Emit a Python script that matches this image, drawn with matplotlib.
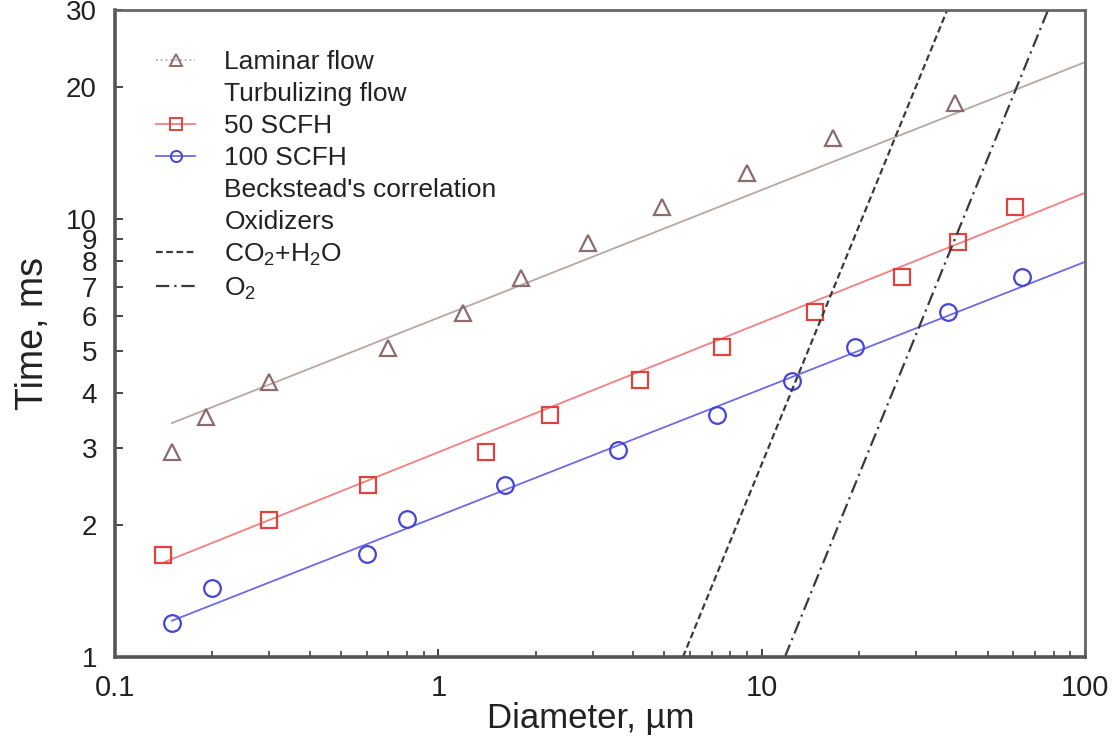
import numpy as np
import matplotlib
matplotlib.use("Agg")
import matplotlib.pyplot as plt
from matplotlib.lines import Line2D

plt.rcParams['font.family'] = ['Liberation Sans', 'DejaVu Sans']
plt.rcParams['mathtext.fontset'] = 'custom'
plt.rcParams['mathtext.rm'] = 'Liberation Sans'
plt.rcParams['mathtext.it'] = 'Liberation Sans'

# laminar flow measurements
d_lam = [0.150, 0.191, 0.300, 0.699, 1.19, 1.80, 2.90, 4.92, 9.01, 16.6, 39.7]
t_lam = [2.94, 3.53, 4.24, 5.08, 6.10, 7.33, 8.81, 10.65, 12.74, 15.3, 18.4]

# turbulizing flow, 50 SCFH
d_50 = [0.141, 0.300, 0.606, 1.405, 2.22, 4.21, 7.54, 14.6, 27.2, 40.5, 60.8]
t_50 = [1.71, 2.05, 2.47, 2.94, 3.57, 4.29, 5.10, 6.13, 7.37, 8.86, 10.65]

# turbulizing flow, 100 SCFH
d_100 = [0.150, 0.1995, 0.602, 0.80, 1.61, 3.60, 7.28, 12.4, 19.45, 37.7, 63.9]
t_100 = [1.196, 1.437, 1.72, 2.07, 2.47, 2.97, 3.57, 4.27, 5.10, 6.13, 7.37]

# power-law fits (end points)
fit_lam_d, fit_lam_t = [0.15, 100], [3.42, 22.8]
fit_50_d, fit_50_t = [0.143, 100], [1.65, 11.47]
fit_100_d, fit_100_t = [0.15, 100], [1.21, 7.98]

# Beckstead's correlation for the two oxidizers
beck_co2_d, beck_co2_t = [5.71, 37.5], [1, 30]
beck_o2_d, beck_o2_t = [11.8, 76.9], [1, 30]

y_ticks = [1, 2, 3, 4, 5, 6, 7, 8, 9, 10, 20, 30]
x_ticks = [0.1, 1, 10, 100]
x_ticklabels = ['0.1', '1', '10', '100']

c_lam, c_lam_line = '#8c6c6e', '#b9a6a6'
c_50, c_50_line = '#e0433d', '#f28080'
c_100, c_100_line = '#4545d6', '#6b6be8'
c_beck = '#3a3a3a'

fig = plt.figure(figsize=(11.2, 7.51), dpi=100)
ax = fig.add_axes([0.1027, 0.1252, 0.866, 0.8615])
ax.set_xscale('log')
ax.set_yscale('log')

ax.plot(fit_lam_d, fit_lam_t, color=c_lam_line, lw=1.3)
ax.plot(fit_50_d, fit_50_t, color=c_50_line, lw=1.3)
ax.plot(fit_100_d, fit_100_t, color=c_100_line, lw=1.3)

ms = 12
ax.plot(d_lam, t_lam, ls='none', marker='^', ms=ms, mfc='none', mec=c_lam, mew=1.6)
ax.plot(d_50, t_50, ls='none', marker='s', ms=ms, mfc='none', mec=c_50, mew=1.6)
ax.plot(d_100, t_100, ls='none', marker='o', ms=ms, mfc='none', mec=c_100, mew=1.6)

ax.plot(beck_co2_d, beck_co2_t, color=c_beck, lw=1.6, ls=(0, (3, 1.6)))
ax.plot(beck_o2_d, beck_o2_t, color=c_beck, lw=1.6, ls=(0, (6, 2.2, 1, 2.2)))

ax.set_xlim(0.1, 100)
ax.set_ylim(1, 30)

ax.set_yticks(y_ticks)
ax.set_yticklabels([str(v) for v in y_ticks])
ax.yaxis.set_minor_locator(matplotlib.ticker.NullLocator())
ax.set_xticks(x_ticks)
ax.set_xticklabels(x_ticklabels)
ax.xaxis.set_minor_locator(matplotlib.ticker.LogLocator(base=10, subs=np.arange(2, 10)))
ax.xaxis.set_minor_formatter(matplotlib.ticker.NullFormatter())

ax.tick_params(which='both', direction='in', top=False, right=False, colors='#444444',
               labelcolor='#222222', labelsize=20)
ax.tick_params(axis='y', which='major', length=6, width=1.4, pad=13)
ax.tick_params(axis='x', which='major', length=6, width=1.4, pad=12, labelsize=21)
ax.tick_params(axis='x', which='minor', length=4, width=1.2)

for side in ['left', 'bottom']:
    ax.spines[side].set_linewidth(2.6)
    ax.spines[side].set_color('#555555')
for side in ['top', 'right']:
    ax.spines[side].set_linewidth(2.0)
    ax.spines[side].set_color('#666666')

ax.set_xlabel('Diameter, µm', fontsize=25, color='#222222')
ax.set_ylabel('Time, ms', fontsize=27, color='#222222')
ax.xaxis.set_label_coords(0.49, -0.07)
ax.yaxis.set_label_coords(-0.066, 0.5)

blank = Line2D([], [], ls='none')
handles = [
    Line2D([], [], color=c_lam_line, ls=':', lw=1.3, marker='^', ms=8, mfc='none', mec=c_lam, mew=1.4),
    blank,
    Line2D([], [], color=c_50_line, lw=1.3, marker='s', ms=8, mfc='none', mec=c_50, mew=1.4),
    Line2D([], [], color=c_100_line, lw=1.3, marker='o', ms=8, mfc='none', mec=c_100, mew=1.4),
    blank,
    blank,
    Line2D([], [], color=c_beck, lw=1.6, ls=(0, (3, 1.6))),
    Line2D([], [], color=c_beck, lw=1.6, ls=(0, (6, 2.2, 1, 2.2))),
]
labels = ['Laminar flow', 'Turbulizing flow', '50 SCFH', '100 SCFH',
          "Beckstead's correlation", 'Oxidizers', 'CO$_2$+H$_2$O', 'O$_2$']
ax.legend(handles, labels, loc='upper left', bbox_to_anchor=(0.042, 0.938),
          frameon=False, fontsize=19, handlelength=1.5, handletextpad=1.1,
          labelspacing=0.3, borderpad=0, borderaxespad=0, labelcolor='#222222')

fig.savefig('out.png', dpi=100)
